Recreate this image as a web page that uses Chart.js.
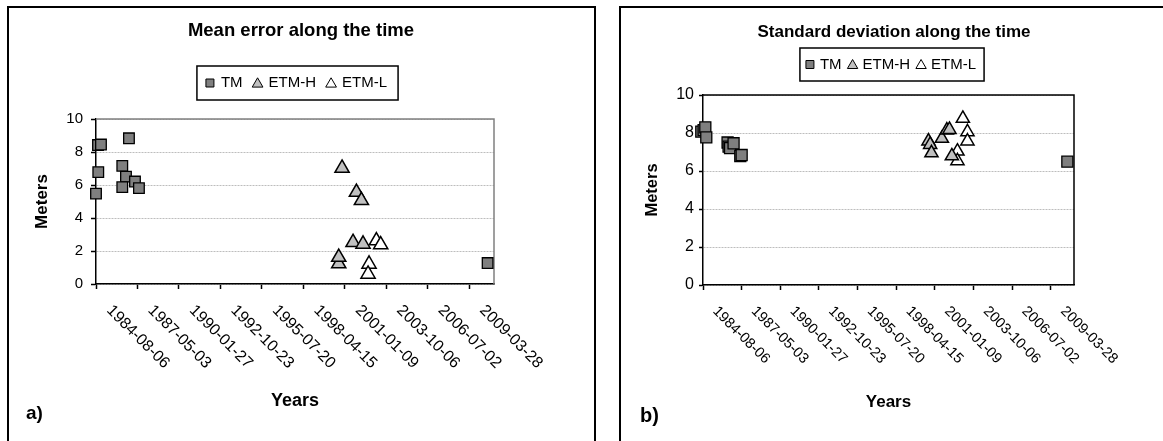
<!DOCTYPE html>
<html>
<head>
<meta charset="utf-8">
<script src="https://cdn.jsdelivr.net/npm/chart.js@4.4.1/dist/chart.umd.min.js"></script>
<style>
  body { margin: 0; width: 1163px; height: 441px; overflow: hidden; background: #fff; position: relative;
         font-family: Arial, "Liberation Sans", sans-serif; }
  .frame { position: absolute; border: 2px solid #000; box-sizing: border-box; }
  #frameA { left: 7px; top: 6px; width: 589px; height: 450px; }
  #frameB { left: 619px; top: 6px; width: 560px; height: 450px; border-width: 2.5px; }
  canvas { position: absolute; }
  #chartA { left: 9px; top: 8px; }
  #chartB { left: 622px; top: 8px; }
  .tag { position: absolute; font-weight: bold; line-height: 1; color: #000; }
</style>
</head>
<body>
<div class="frame" id="frameA"></div>
<div class="frame" id="frameB"></div>
<canvas id="chartA" width="584" height="433"></canvas>
<canvas id="chartB" width="544" height="433"></canvas>
<div class="tag" style="left:26px;top:403px;font-size:19px">a)</div>
<div class="tag" style="left:640px;top:405px;font-size:20px">b)</div>
<script>
// x tick labels (dates), one every 1000 days
var xTickLabels = ['1984-08-06', '1987-05-03', '1990-01-27', '1992-10-23', '1995-07-20',
                   '1998-04-15', '2001-01-09', '2003-10-06', '2006-07-02', '2009-03-28'];

// x values are Excel day numbers (1984-08-06 = 30900)
// a) mean error [m]
var tmDaysA   = [30900, 30955, 30948, 31020, 31695, 31534, 31623, 31534, 31840, 31936, 40346];
var tmMeanA   = [5.48, 6.78, 8.42, 8.45, 8.83, 7.16, 6.51, 5.87, 6.21, 5.81, 1.27];
var etmhDaysA = [36835, 37182, 37302, 37100, 37341, 36755, 36755];
var etmhMeanA = [7.02, 5.56, 5.06, 2.52, 2.42, 1.23, 1.62];
var etmlDaysA = [37663, 37767, 37486, 37462];
var etmlMeanA = [2.62, 2.38, 1.21, 0.60];

// b) standard deviation [m]
var tmDaysB   = [30856, 30916, 30960, 30985, 31536, 31562, 31600, 31691, 31865, 31900, 40328];
var tmStdB    = [8.07, 8.15, 8.30, 7.77, 7.50, 7.28, 7.20, 7.46, 6.79, 6.84, 6.49];
var etmhDaysB = [36734, 36778, 36812, 37081, 37210, 37277, 37339];
var etmhStdB  = [7.57, 7.39, 6.95, 7.71, 8.15, 8.18, 6.79];
var etmlDaysB = [37624, 37743, 37743, 37484, 37484];
var etmlStdB  = [8.76, 8.06, 7.57, 7.04, 6.53];

var FONT = 'Arial, "Liberation Sans", sans-serif';
Chart.defaults.font.family = FONT;
Chart.defaults.color = '#000';

function dayNumber(s) {
  var p = s.split('-');
  return Math.round((Date.UTC(+p[0], p[1] - 1, +p[2]) - Date.UTC(1899, 11, 30)) / 86400000);
}
var tickDays = xTickLabels.map(dayNumber);

function points(xs, ys) {
  return xs.map(function (x, i) { return { x: x, y: ys[i] }; });
}

function markerPoint(ctx, style, r, x, y) {
  if (Chart.helpers && Chart.helpers.drawPoint) {
    Chart.helpers.drawPoint(ctx, { pointStyle: style, radius: r, borderWidth: 1, rotation: 0 }, x, y);
    return;
  }
  ctx.beginPath();
  if (style === 'rect') {
    var s = r * Math.SQRT1_2;
    ctx.rect(x - s, y - s, 2 * s, 2 * s);
  } else {
    ctx.moveTo(x, y - r);
    ctx.lineTo(x + r * 0.866, y + r / 2);
    ctx.lineTo(x - r * 0.866, y + r / 2);
    ctx.closePath();
  }
  ctx.fill();
  ctx.stroke();
}

// plot frame, rotated date labels and the boxed legend
var panelDecor = {
  id: 'panelDecor',
  beforeDatasetsDraw: function (chart, args, opts) {
    var a = chart.chartArea, ctx = chart.ctx;
    ctx.save();
    ctx.strokeStyle = opts.frameColor;
    ctx.lineWidth = 1.5;
    ctx.beginPath();
    ctx.moveTo(a.left, a.top);
    ctx.lineTo(a.right, a.top);
    ctx.lineTo(a.right, a.bottom);
    ctx.stroke();
    ctx.restore();
  },
  afterDraw: function (chart, args, opts) {
    var ctx = chart.ctx, xs = chart.scales.x;
    ctx.save();
    ctx.fillStyle = '#000';
    ctx.font = opts.tickFontSize + 'px ' + FONT;
    ctx.textAlign = 'left';
    ctx.textBaseline = 'middle';
    xTickLabels.forEach(function (lbl) {
      var px = xs.getPixelForValue(dayNumber(lbl));
      ctx.save();
      ctx.translate(px + opts.labelDx, xs.top + opts.labelDy);
      ctx.rotate(Math.PI / 4);
      ctx.fillText(lbl, 0, 0);
      ctx.restore();
    });

    var lg = opts.legend;
    ctx.font = lg.fontSize + 'px ' + FONT;
    var items = chart.data.datasets.map(function (ds) {
      return { ds: ds, w: ctx.measureText(ds.label).width };
    });
    var total = lg.padL + lg.padR;
    items.forEach(function (it, i) {
      total += lg.slot + lg.gapMarker + it.w + (i < items.length - 1 ? lg.gapItem : 0);
    });
    var x = lg.cx - total / 2;
    ctx.strokeStyle = '#000';
    ctx.lineWidth = 1.5;
    ctx.strokeRect(x, lg.cy - lg.h / 2, total, lg.h);
    x += lg.padL;
    items.forEach(function (it) {
      ctx.fillStyle = it.ds.backgroundColor;
      ctx.strokeStyle = '#000';
      ctx.lineWidth = 1;
      var r = it.ds.pointStyle === 'rect' ? lg.square * Math.SQRT1_2 : lg.tri;
      markerPoint(ctx, it.ds.pointStyle, r, x + lg.slot / 2, lg.cy + (it.ds.pointStyle === 'rect' ? 0 : 1));
      x += lg.slot + lg.gapMarker;
      ctx.fillStyle = '#000';
      ctx.fillText(it.ds.label, x, lg.cy);
      x += it.w + lg.gapItem;
    });
    ctx.restore();
  }
};

function makePanel(id, p) {
  var sets = [
    { label: 'TM', data: points(p.tmX, p.tmY), pointStyle: 'rect', pointRadius: p.sq,
      backgroundColor: '#7f7f7f', borderColor: '#000', borderWidth: 1.3 },
    { label: 'ETM-H', data: points(p.hX, p.hY), pointStyle: 'triangle', pointRadius: p.tr,
      backgroundColor: '#c0c0c0', borderColor: '#000', borderWidth: 1.5 },
    { label: 'ETM-L', data: points(p.lX, p.lY), pointStyle: 'triangle', pointRadius: p.tr,
      backgroundColor: '#ffffff', borderColor: '#000', borderWidth: 1.5 }
  ];
  sets.forEach(function (s) { s.clip = false; s.pointHoverRadius = s.pointRadius; });

  return new Chart(document.getElementById(id), {
    type: 'scatter',
    data: { datasets: sets },
    plugins: [panelDecor],
    options: {
      responsive: false,
      animation: false,
      events: [],
      layout: { padding: { left: 0, right: 0, top: 0, bottom: p.padBottom } },
      plugins: {
        legend: { display: false },
        tooltip: { enabled: false },
        title: {
          display: true, text: p.title, color: '#000',
          font: { size: p.titleSize, weight: 'bold' },
          padding: { top: p.titleTop, bottom: p.titleBottom }
        },
        panelDecor: {
          frameColor: p.frameColor, tickFontSize: p.xFont,
          labelDx: p.labelDx, labelDy: p.labelDy, legend: p.legend
        }
      },
      scales: {
        x: {
          type: 'linear', min: 30900, max: 40500,
          afterBuildTicks: function (s) { s.ticks = tickDays.map(function (v) { return { value: v }; }); },
          afterFit: function (s) { s.height = p.xHeight; },
          ticks: { display: false },
          grid: { drawOnChartArea: false, drawTicks: true, tickLength: 5, tickColor: '#000', tickWidth: 1.5 },
          border: { color: '#000', width: 1.5 },
          title: { display: true, text: 'Years', color: '#000',
                   font: { size: p.yearsSize, weight: 'bold' }, padding: { top: 0, bottom: p.yearsPad } }
        },
        y: {
          min: 0, max: 10,
          afterFit: function (s) { s.width = p.yWidth; },
          ticks: { stepSize: 2, color: '#000', padding: p.yPad, font: { size: p.yFont } },
          grid: { color: '#bdbdbd', lineWidth: 1, tickColor: '#000', tickLength: p.yTick, tickWidth: 1.5 },
          border: { color: '#000', width: 1.5, dash: [2, 1] },
          title: { display: true, text: 'Meters', color: '#000',
                   font: { size: p.metersSize, weight: 'bold' }, padding: { top: p.metersPad, bottom: 0 } }
        },
        // empty right-hand margin so the title centres on the whole panel
        side: {
          position: 'right', min: 0, max: 10,
          afterFit: function (s) { s.width = p.rightMargin; },
          ticks: { display: false },
          grid: { display: false },
          border: { display: false }
        }
      }
    }
  });
}

makePanel('chartA', {
  title: 'Mean error along the time', titleSize: 18.5, titleTop: 11.9, titleBottom: 76.9,
  tmX: tmDaysA, tmY: tmMeanA, hX: etmhDaysA, hY: etmhMeanA, lX: etmlDaysA, lY: etmlMeanA,
  sq: 7.5, tr: 8.2, frameColor: '#808080',
  rightMargin: 99, padBottom: 27, xHeight: 130, yWidth: 87,
  yFont: 15, yPad: 8, yTick: 5, xFont: 16, labelDx: 13, labelDy: 24,
  yearsSize: 18, yearsPad: 2.2, metersSize: 17, metersPad: 22.8,
  legend: { cx: 288.5, cy: 75, h: 34, fontSize: 15, padL: 8, padR: 11, slot: 10,
            gapMarker: 6, gapItem: 10, square: 8, tri: 6.2 }
});

makePanel('chartB', {
  title: 'Standard deviation along the time', titleSize: 17, titleTop: 13.8, titleBottom: 52.8,
  tmX: tmDaysB, tmY: tmStdB, hX: etmhDaysB, hY: etmhStdB, lX: etmlDaysB, lY: etmlStdB,
  sq: 7.8, tr: 7.6, frameColor: '#000',
  rightMargin: 92, padBottom: 26, xHeight: 130, yWidth: 81,
  yFont: 16, yPad: 5, yTick: 4, xFont: 14.5, labelDx: 12, labelDy: 24,
  yearsSize: 17, yearsPad: 2.8, metersSize: 16.5, metersPad: 20.8,
  legend: { cx: 270, cy: 56.5, h: 33, fontSize: 15, padL: 5, padR: 8, slot: 10,
            gapMarker: 5, gapItem: 6, square: 8, tri: 6 }
});
</script>
</body>
</html>
